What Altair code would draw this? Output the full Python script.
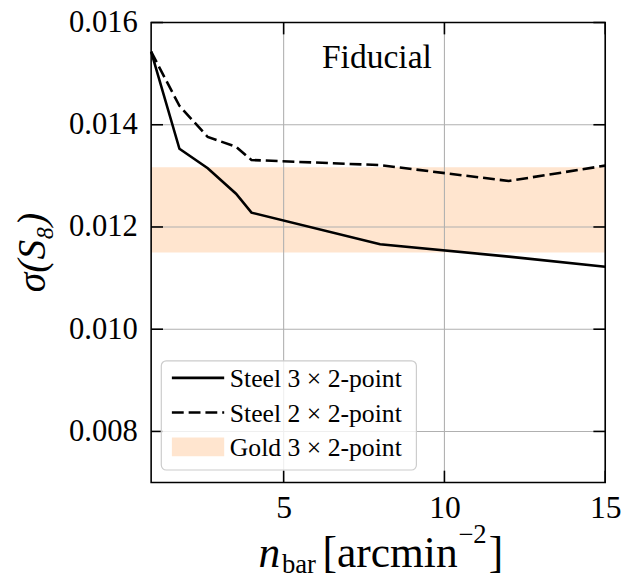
import altair as alt
import pandas as pd

# ---- data ----
n_bar = [0.88, 1.76, 2.64, 3.52, 4, 8, 12, 15]
steel_3x2 = [0.01543, 0.01353, 0.01315, 0.01265, 0.01228, 0.01166, 0.01142, 0.01122]
steel_2x2 = [0.01543, 0.01437, 0.01376, 0.01357, 0.01331, 0.01321, 0.01290, 0.01320]
gold_n = [0.88, 15]
gold_lo = [0.01150]
gold_hi = [0.01317]
x_ticks = [5, 10, 15]
y_ticks = [0.008, 0.010, 0.012, 0.014, 0.016]
legend_labels = ["Steel 3 \u00d7 2-point", "Steel 2 \u00d7 2-point", "Gold 3 \u00d7 2-point"]
annotation = ["Fiducial"]
annotation_pos = [7.9, 0.01511]
x_title_parts = ["n", "bar", "[arcmin", "\u22122", "]"]
y_title = "\u03c3(S\u2088)"

FONT = "Liberation Serif"
W, H = 460, 466
BAND = "#ffe5cf"
GRID = "#b0b0b0"
DASH = [12, 5]

xs = alt.Scale(domain=[0.88, 15], nice=False, zero=False)
ys = alt.Scale(domain=[0.007, 0.016], nice=False, zero=False)

lines_df = pd.DataFrame({"n": n_bar, "s3": steel_3x2, "s2": steel_2x2})
band_df = pd.DataFrame({"n0": [gold_n[0]], "n1": [gold_n[1]], "lo": gold_lo, "hi": gold_hi})
xt_df = pd.DataFrame({"v": x_ticks})
yt_df = pd.DataFrame({"v": y_ticks})

xaxis = alt.Axis(values=x_ticks, grid=False, ticks=False, domain=False,
                 labelFont=FONT, labelFontSize=32, labelPadding=10, labelColor="black",
                 labelFlush=False, labelOverlap=False, title=None)
yaxis = alt.Axis(values=y_ticks, format=".3f", grid=False, ticks=False, domain=False,
                 labelFont=FONT, labelFontSize=31, labelPadding=14, labelColor="black",
                 labelFlush=False, labelOverlap=False, title=None)


def X(f):
    return alt.X(f, scale=xs, axis=xaxis)


def Y(f):
    return alt.Y(f, scale=ys, axis=yaxis)


band = alt.Chart(band_df).mark_rect(color=BAND).encode(
    x=X("n0:Q"), x2="n1", y=Y("lo:Q"), y2="hi")

grid_x = alt.Chart(xt_df).mark_rule(color=GRID, strokeWidth=1.1).encode(x=X("v:Q"))
grid_y = alt.Chart(yt_df).mark_rule(color=GRID, strokeWidth=1.1).encode(y=Y("v:Q"))

solid = alt.Chart(lines_df).mark_line(color="black", strokeWidth=2.6).encode(
    x=X("n:Q"), y=Y("s3:Q"))
dashed = alt.Chart(lines_df).mark_line(color="black", strokeWidth=2.6, strokeDash=DASH).encode(
    x=X("n:Q"), y=Y("s2:Q"))

tk = dict(color="black", strokeWidth=1.6)
tick_l = alt.Chart(yt_df).mark_rule(**tk).encode(y=Y("v:Q"), x=alt.value(0), x2=alt.value(12))
tick_r = alt.Chart(yt_df).mark_rule(**tk).encode(y=Y("v:Q"), x=alt.value(W - 12), x2=alt.value(W))
tick_t = alt.Chart(xt_df).mark_rule(**tk).encode(x=X("v:Q"), y=alt.value(0), y2=alt.value(12))
tick_b = alt.Chart(xt_df).mark_rule(**tk).encode(x=X("v:Q"), y=alt.value(H - 12), y2=alt.value(H))

one = pd.DataFrame({"a": [0]})
leg_box = alt.Chart(one).mark_rect(fill="white", fillOpacity=0.8, stroke="#cccccc",
                                   strokeWidth=1.2, cornerRadius=5).encode(
    x=alt.value(10.3), x2=alt.value(268.7), y=alt.value(342.7), y2=alt.value(453.3))
leg_l1 = alt.Chart(one).mark_rule(color="black", strokeWidth=2.6).encode(
    x=alt.value(21), x2=alt.value(74), y=alt.value(360))
leg_l2 = alt.Chart(one).mark_rule(color="black", strokeWidth=2.6, strokeDash=DASH).encode(
    x=alt.value(21), x2=alt.value(74), y=alt.value(395))
leg_sw = alt.Chart(one).mark_rect(color=BAND).encode(
    x=alt.value(21), x2=alt.value(74), y=alt.value(420.3), y2=alt.value(439.3))


def txt(s, x, y, size, style="normal", align="left", angle=0):
    d = pd.DataFrame({"t": [s]})
    m = alt.Chart(d).mark_text(font=FONT, fontSize=size, fontStyle=style, align=align,
                               baseline="alphabetic", color="black", angle=angle)
    return m.encode(text="t:N", x=alt.value(x), y=alt.value(y))


leg_t = [txt(legend_labels[0], 79.7, 369.3, 26),
         txt(legend_labels[1], 79.7, 404.3, 26),
         txt(legend_labels[2], 79.7, 439.0, 26)]

fid = alt.Chart(pd.DataFrame({"t": annotation, "x": [annotation_pos[0]], "y": [annotation_pos[1]]})).mark_text(
    font=FONT, fontSize=34, align="center", baseline="alphabetic", color="black").encode(
    text="t:N", x=X("x:Q"), y=Y("y:Q"))

xt = [txt(x_title_parts[0], 108.7, 552, 44, style="italic"),
      txt(x_title_parts[1], 132.5, 557.7, 27),
      txt(x_title_parts[2], 173.7, 552, 44),
      txt(x_title_parts[3], 311, 527.7, 27),
      txt(x_title_parts[4], 342, 552, 44)]
yt = txt(y_title, -108, 233, 40, style="italic", align="center", angle=270)

frame = alt.Chart(one).mark_rect(filled=False, stroke="black", strokeWidth=1.6).encode(
    x=alt.value(0), x2=alt.value(W), y=alt.value(0), y2=alt.value(H))

chart = alt.layer(band, grid_x, grid_y, solid, dashed, tick_l, tick_r, tick_t, tick_b,
                  leg_box, leg_l1, leg_l2, leg_sw, *leg_t, fid, *xt, yt, frame).properties(
    width=W, height=H,
    padding={"left": 145, "top": 11, "right": 18, "bottom": 94},
    autosize=alt.AutoSizeParams(type="none"),
    background="white",
).configure_view(stroke=None)

chart.save("out.html", embed_options={"renderer": "svg", "actions": False})
